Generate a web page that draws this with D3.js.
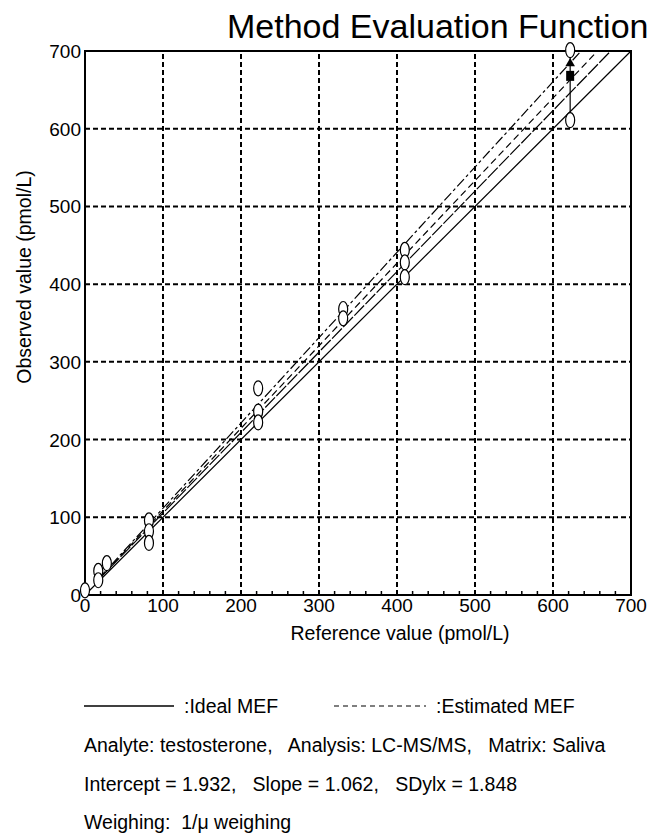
<!DOCTYPE html>
<html>
<head>
<meta charset="utf-8">
<script src="https://cdn.jsdelivr.net/npm/d3@7"></script>
<style>
  body { margin: 0; background: #fff; }
  text { font-family: "Liberation Sans", Arial, sans-serif; fill: #000; white-space: pre; }
</style>
</head>
<body>
<svg id="mef" width="659" height="834"></svg>
<script>
// observed points (reference value, observed value)
const refValues = [0, 17, 17, 28, 82, 82, 82, 222, 222, 222, 331, 331, 410, 410, 410, 622, 622]
const obsValues = [6, 31, 19, 41, 96, 82, 67, 266, 236, 222, 368, 356, 444, 428, 409, 701, 611]

// mean marker for the top sample
const meanRef = 622
const meanObs = [668, 684]

// lines: ideal, estimated and its bands
const idealLine = [[0, 0], [700, 700]]
const estLine = [[17, 20], [657, 700]]
const lowerLine = [[17, 19.5], [674, 700]]
const upperLine = [[17, 20.5], [636, 700]]

const ticks = [0, 100, 200, 300, 400, 500, 600, 700]
const minorTicks = d3.range(20, 700, 20).filter(d => d % 100 != 0)

const infoLines = [
  "Analyte: testosterone,   Analysis: LC-MS/MS,   Matrix: Saliva",
  "Intercept = 1.932,   Slope = 1.062,   SDylx = 1.848",
  "Weighing:  1/\u03bc weighing"
]

const svg = d3.select("#mef")

const x = d3.scaleLinear().domain([0, 700]).range([85, 631])
const y = d3.scaleLinear().domain([0, 700]).range([595, 51])

// title
svg.append("text")
  .attr("x", 227).attr("y", 38)
  .style("font-size", "34px")
  .text("Method Evaluation Function")

// dashed grid
svg.append("g")
  .selectAll("line")
  .data(ticks.slice(1, 7))
  .join("line")
    .attr("x1", d => x(d)).attr("x2", d => x(d))
    .attr("y1", y(0)).attr("y2", y(700))
    .attr("stroke", "#000").attr("stroke-width", 2)
    .style("stroke-dasharray", "5,3")
svg.append("g")
  .selectAll("line")
  .data(ticks.slice(1, 7))
  .join("line")
    .attr("x1", x(0)).attr("x2", x(700))
    .attr("y1", d => y(d)).attr("y2", d => y(d))
    .attr("stroke", "#000").attr("stroke-width", 2)
    .style("stroke-dasharray", "5,3")

// frame
svg.append("rect")
  .attr("x", x(0)).attr("y", y(700))
  .attr("width", x(700) - x(0)).attr("height", y(0) - y(700))
  .attr("fill", "none").attr("stroke", "#000").attr("stroke-width", 2)

// minor ticks on x axis
svg.append("g")
  .selectAll("line")
  .data(minorTicks)
  .join("line")
    .attr("x1", d => x(d)).attr("x2", d => x(d))
    .attr("y1", y(0)).attr("y2", y(0) - 4)
    .attr("stroke", "#000").attr("stroke-width", 1.5)

// tick labels
svg.append("g")
  .selectAll("text")
  .data(ticks)
  .join("text")
    .attr("x", d => x(d)).attr("y", 612)
    .attr("text-anchor", "middle")
    .style("font-size", "19px")
    .text(d => d)
svg.append("g")
  .selectAll("text")
  .data(ticks)
  .join("text")
    .attr("x", 81).attr("y", d => y(d) + 7)
    .attr("text-anchor", "end")
    .style("font-size", "19px")
    .text(d => d)

// axis titles
svg.append("text")
  .attr("x", 400).attr("y", 640)
  .attr("text-anchor", "middle")
  .style("font-size", "19.5px")
  .text("Reference value (pmol/L)")
svg.append("text")
  .attr("transform", "translate(31,277) rotate(-90)")
  .attr("text-anchor", "middle")
  .style("font-size", "19.5px")
  .text("Observed value (pmol/L)")

// MEF lines
const line = d3.line().x(d => x(d[0])).y(d => y(d[1]))
const lines = [
  { pts: idealLine, dash: null },
  { pts: lowerLine, dash: "14,2" },
  { pts: estLine, dash: "7,4" },
  { pts: upperLine, dash: "10,3,3,3" }
]
svg.append("g")
  .selectAll("path")
  .data(lines)
  .join("path")
    .attr("d", d => line(d.pts))
    .attr("fill", "none")
    .attr("stroke", "#000")
    .attr("stroke-width", 1.2)
    .style("stroke-dasharray", d => d.dash)

// range bar for the top sample
svg.append("line")
  .attr("x1", x(meanRef)).attr("x2", x(meanRef))
  .attr("y1", y(611)).attr("y2", y(701))
  .attr("stroke", "#000").attr("stroke-width", 1.2)

// points
svg.append("g")
  .selectAll("ellipse")
  .data(refValues.map((r, i) => [r, obsValues[i]]))
  .join("ellipse")
    .attr("cx", d => x(d[0]))
    .attr("cy", d => y(d[1]))
    .attr("rx", 4.5).attr("ry", 7.5)
    .attr("fill", "#fff")
    .attr("stroke", "#000").attr("stroke-width", 1.2)

// mean marker
svg.append("rect")
  .attr("x", x(meanRef) - 4).attr("y", y(meanObs[0]) - 5)
  .attr("width", 8).attr("height", 10)
  .attr("fill", "#000")
svg.append("path")
  .attr("d", d3.symbol(d3.symbolTriangle, 40)())
  .attr("transform", `translate(${x(meanRef)},${y(meanObs[1])})`)
  .attr("fill", "#000")

// legend
svg.append("line")
  .attr("x1", 84).attr("x2", 174).attr("y1", 706).attr("y2", 706)
  .attr("stroke", "#000").attr("stroke-width", 1.5)
svg.append("text")
  .attr("x", 184).attr("y", 713)
  .style("font-size", "19.5px")
  .text(":Ideal MEF")
svg.append("line")
  .attr("x1", 334).attr("x2", 426).attr("y1", 706).attr("y2", 706)
  .attr("stroke", "#000").attr("stroke-width", 1.2)
  .style("stroke-dasharray", "5,4")
svg.append("text")
  .attr("x", 436).attr("y", 713)
  .style("font-size", "19.5px")
  .text(":Estimated MEF")

svg.append("g")
  .selectAll("text")
  .data(infoLines)
  .join("text")
    .attr("x", 84)
    .attr("y", (d, i) => 752 + i * 38.5)
    .style("font-size", "19.5px")
    .text(d => d)
</script>
</body>
</html>
